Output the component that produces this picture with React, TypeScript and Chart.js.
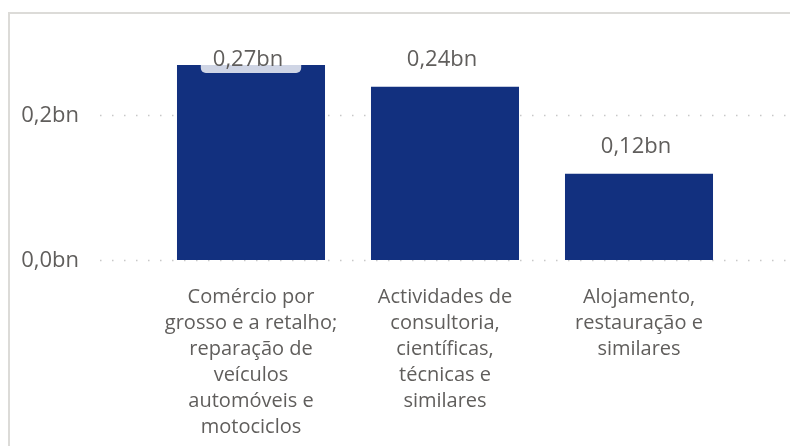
import React, { useEffect, useRef } from "react";
import { Chart, registerables } from "chart.js";

Chart.register(...registerables);

const categories: string[][] = [
  ["Comércio por", "grosso e a retalho;", "reparação de", "veículos", "automóveis e", "motociclos"],
  ["Actividades de", "consultoria,", "científicas,", "técnicas e", "similares"],
  ["Alojamento,", "restauração e", "similares"],
];
const values: number[] = [0.269, 0.239, 0.119];
const yTicks: number[] = [0, 0.2];

const BAR = "#12307f";
const TEXT = "#605e5c";
const FONT = "'Open Sans', 'Noto Sans', sans-serif";

const fmt = (v: number, d: number) => v.toFixed(d).replace(".", ",") + "bn";

const framePlugin = {
  id: "frame",
  beforeDraw(chart: any) {
    const { ctx, width, height } = chart;
    ctx.save();
    ctx.fillStyle = "#dcdbd8";
    ctx.fillRect(8, 12, width - 8, 2);
    ctx.fillRect(8, 12, 2, height - 12);
    ctx.restore();
  },
  beforeDatasetsDraw(chart: any) {
    const { ctx, chartArea, width } = chart;
    const y = chart.scales.y;
    ctx.save();
    yTicks.forEach((t) => {
      const py = Math.round(y.getPixelForValue(t)) + 0.5;
      ctx.strokeStyle = "#c8c8c8";
      ctx.lineWidth = 1.5;
      ctx.setLineDash([1.5, 10.5]);
      ctx.beginPath();
      ctx.moveTo(chartArea.left - 54, py);
      ctx.lineTo(width, py);
      ctx.stroke();
      ctx.setLineDash([]);
      ctx.fillStyle = TEXT;
      ctx.font = `22px ${FONT}`;
      ctx.textAlign = "right";
      ctx.textBaseline = "middle";
      ctx.fillText(fmt(t, 1), chartArea.left - 75, py);
    });
    ctx.restore();
  },
  afterDatasetsDraw(chart: any) {
    const { ctx, chartArea } = chart;
    const meta = chart.getDatasetMeta(0);
    ctx.save();
    ctx.font = `22px ${FONT}`;
    ctx.textAlign = "center";
    ctx.textBaseline = "middle";
    meta.data.forEach((bar: any, i: number) => {
      const text = fmt(values[i], 2);
      const cy = Math.max(bar.y - 29, chartArea.top + 15.5);
      const w = ctx.measureText(text).width + 30;
      const h = 28;
      ctx.fillStyle = "rgba(255,255,255,0.8)";
      ctx.beginPath();
      (ctx as any).roundRect(bar.x - w / 2, cy - h / 2 + 1, w, h, 5);
      ctx.fill();
      ctx.fillStyle = TEXT;
      ctx.fillText(text, bar.x - 3, cy + 2);
    });
    ctx.restore();
  },
};

export default function App() {
  const ref = useRef<HTMLCanvasElement>(null);
  useEffect(() => {
    if (!ref.current) return;
    const chart = new Chart(ref.current, {
      type: "bar",
      data: {
        labels: categories,
        datasets: [
          {
            data: values,
            backgroundColor: BAR,
            categoryPercentage: 1,
            barPercentage: 0.763,
          },
        ],
      },
      options: {
        animation: false,
        responsive: false,
        devicePixelRatio: 1,
        layout: { padding: { top: 42.5, right: 54, bottom: 0, left: 0 } },
        plugins: { legend: { display: false }, tooltip: { enabled: false } },
        scales: {
          x: {
            grid: { display: false, drawTicks: false },
            border: { display: false },
            ticks: {
              color: TEXT,
              font: { family: FONT, size: 20, lineHeight: 1.3 },
              padding: 24,
              maxRotation: 0,
              autoSkip: false,
            },
            afterFit(scale: any) {
              scale.height = 186;
            },
          },
          y: {
            min: 0,
            max: 0.3,
            grid: { display: false, drawTicks: false },
            border: { display: false },
            ticks: { display: false, stepSize: 0.2 },
            afterFit(scale: any) {
              scale.width = 154;
            },
          },
        },
      },
      plugins: [framePlugin],
    });
    return () => chart.destroy();
  }, []);
  return (
    <div style={{ position: "fixed", left: 0, top: 0, width: 790, height: 446, background: "#fff" }}>
      <canvas ref={ref} width={790} height={446} />
    </div>
  );
}
